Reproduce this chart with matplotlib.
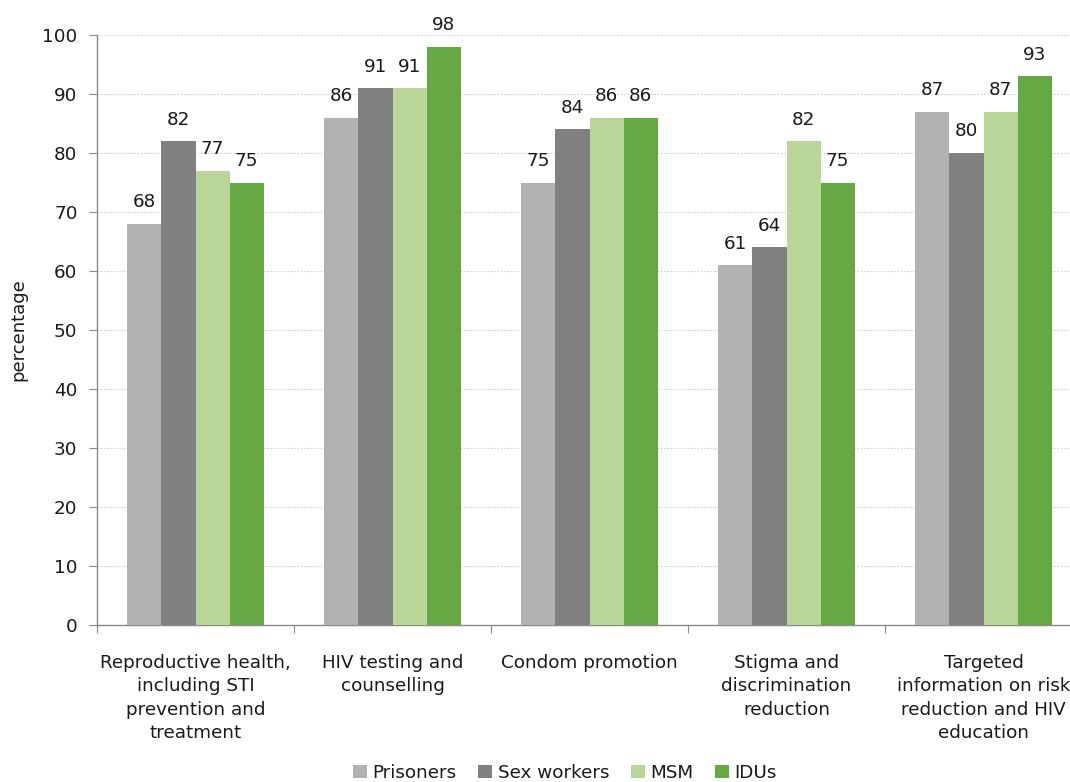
import matplotlib
matplotlib.use("Agg")
import matplotlib.pyplot as plt
import numpy as np

categories = ["Reproductive health,\nincluding STI\nprevention and\ntreatment",
              "HIV testing and\ncounselling",
              "Condom promotion",
              "Stigma and\ndiscrimination\nreduction",
              "Targeted\ninformation on risk\nreduction and HIV\neducation"]
series = ["Prisoners", "Sex workers", "MSM", "IDUs"]
prisoners = [68, 86, 75, 61, 87]
sex_workers = [82, 91, 84, 64, 80]
msm = [77, 91, 86, 82, 87]
idus = [75, 98, 86, 75, 93]
values = [prisoners, sex_workers, msm, idus]
colors = ["#B2B2B2", "#808080", "#B9D597", "#66A843"]

plt.rcParams['font.family'] = ['DejaVu Sans']
fig = plt.figure(figsize=(10.70, 7.82), dpi=100)
ax = fig.add_axes([97/1070, 1-625/782, 985/1070, 590/782])

x = np.arange(len(categories))
w = 0.173
for i, (name, vals, c) in enumerate(zip(series, values, colors)):
    pos = x + (i - 1.5) * w
    bars = ax.bar(pos, vals, width=w, color=c, label=name, zorder=3)
    for b, v in zip(bars, vals):
        ax.annotate(str(v), (b.get_x() + b.get_width()/2, v), xytext=(0, 9),
                    textcoords="offset points", ha="center", va="bottom",
                    fontsize=13.2, color="#1a1a1a", zorder=4)

ax.set_xlim(-0.5, len(categories) - 0.5)
ax.set_ylim(0, 100)
ax.set_yticks(range(0, 101, 10))
ax.tick_params(axis='y', labelsize=13.2, length=6, color="#898989", labelcolor="#1a1a1a", pad=8)
ax.set_xticks(np.arange(-0.5, len(categories), 1))
ax.set_xticklabels([])
ax.tick_params(axis='x', length=6, color="#898989")
for xi, lab in zip(x, categories):
    ax.text(xi, -4.9, lab, ha="center", va="top", fontsize=13.2, color="#1a1a1a",
            linespacing=1.38, transform=ax.transData, clip_on=False)

ax.yaxis.grid(True, linestyle=(0, (1.5, 1.5)), color="#D0D0D0", linewidth=0.8, zorder=0)
for s in ["top", "right"]:
    ax.spines[s].set_visible(False)
for s in ["left", "bottom"]:
    ax.spines[s].set_color("#898989")
    ax.spines[s].set_linewidth(1.0)

ax.set_ylabel("percentage", fontsize=13, color="#1a1a1a")
ax.yaxis.set_label_coords(-70/985, 0.5)

leg = fig.legend(loc="center", bbox_to_anchor=(565/1070, 1-773/782), ncol=4, frameon=False,
                 fontsize=13.2, handlelength=0.75, handleheight=0.75, handletextpad=0.3,
                 columnspacing=1.2, labelcolor="#1a1a1a")

fig.savefig("out.png", dpi=100)
